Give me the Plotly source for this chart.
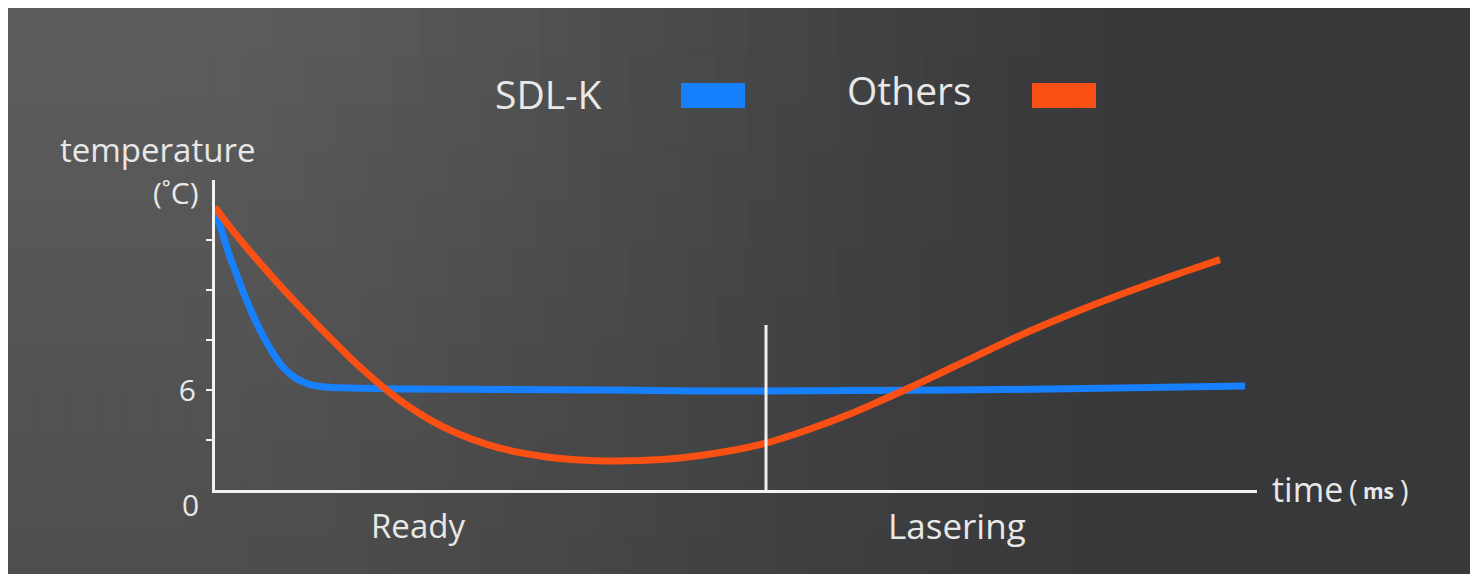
import plotly.graph_objects as go

# ---------------- data ----------------
sdl_t = [0, 0.7, 1.4, 2.1, 2.9, 3.7, 4.6, 5.6, 6.7, 7.9, 9.3, 11, 13.5, 18.5, 28.5, 38.5, 48.5,
         55.1, 63.5, 73.5, 83.5, 93.5, 103]
sdl_T = [16.8, 15.48, 14.16, 13.02, 11.76, 10.62, 9.48, 8.4, 7.44, 6.78, 6.36, 6.18, 6.12, 6.06,
         6.03, 6.0, 5.94, 5.94, 5.97, 6.0, 6.06, 6.15, 6.24]

oth_t = [0, 1.5, 3.1, 4.7, 6.3, 7.9, 9.6, 11.3, 13.1, 15.0, 17.0, 19.1, 21.5, 24.2, 27.2, 30.5,
         34.2, 38.2, 42.5, 46.5, 50.5, 55.1, 59.5, 63.5, 66.5, 69.5, 73.5, 77.5, 81.5, 85.5, 89.5,
         93.5, 97.0, 100.5]
oth_T = [16.98, 15.77, 14.6, 13.48, 12.4, 11.36, 10.3, 9.25, 8.18, 7.11, 6.08, 5.12, 4.21, 3.4,
         2.74, 2.24, 1.91, 1.76, 1.77, 1.92, 2.25, 2.82, 3.66, 4.56, 5.34, 6.15, 7.29, 8.43,
         9.54, 10.55, 11.49, 12.37, 13.11, 13.82]

series_names = ["SDL-K", "Others"]
series_colors = ["#1680ff", "#fa5014"]

y_tick_vals = [3, 6, 9, 12, 15]
y_tick_text = ["", "6", "", "", ""]
phase_labels = ["Ready", "Lasering"]
phase_divider_t = 55.1
phase_divider_top = 9.9

W, H = 1478, 574
OFF = 8  # page margin offset
FONT = "Open Sans, Liberation Sans, Arial, sans-serif"
TXT = "#e8e8e8"


def px(x):
    return (x - OFF) / W


def py(y):
    return 1 - (y - OFF) / H


fig = go.Figure()

fig.add_trace(go.Scatter(x=sdl_t, y=sdl_T, mode="lines", name=series_names[0],
                         line=dict(color=series_colors[0], width=7, shape="spline", smoothing=1.0),
                         cliponaxis=False, showlegend=False))
fig.add_trace(go.Scatter(x=oth_t, y=oth_T, mode="lines", name=series_names[1],
                         line=dict(color=series_colors[1], width=7, shape="spline", smoothing=1.0),
                         cliponaxis=False, showlegend=False))

# ---------------- background gradient ----------------
shapes = []
ncol, nrow = 50, 12
cw = W / ncol
rh = H / nrow
D = (0x37, 0x38, 0x3a)
for i in range(ncol):
    for j in range(nrow):
        cx = (i + 0.5) * cw + OFF
        cy = (j + 0.5) * rh + OFF
        L = 0x5e - 16 * (cy / H)
        f = min(max((cx - 100) / 1150, 0), 1)
        f = f * f * (3 - 2 * f)
        col = tuple(int(round(L + (d - L) * f)) for d in D)
        shapes.append(dict(type="rect", xref="paper", yref="paper", layer="below",
                           x0=i * cw / W, x1=((i + 1) * cw + 2) / W,
                           y0=1 - ((j + 1) * rh + 2) / H, y1=1 - (j * rh) / H,
                           fillcolor="rgb(%d,%d,%d)" % col, line=dict(width=0)))

# phase divider
shapes.append(dict(type="line", xref="x", yref="y", x0=phase_divider_t, x1=phase_divider_t,
                   y0=0, y1=phase_divider_top, line=dict(color="#f0f0f0", width=3)))

# legend swatches
shapes.append(dict(type="rect", xref="paper", yref="paper", x0=px(681), x1=px(745), y0=py(108), y1=py(83),
                   fillcolor=series_colors[0], line=dict(width=0)))
shapes.append(dict(type="rect", xref="paper", yref="paper", x0=px(1032), x1=px(1096), y0=py(108), y1=py(83),
                   fillcolor=series_colors[1], line=dict(width=0)))

ann = [
    dict(text="temperature", x=px(157), y=py(150), size=33),
    dict(text="(˚C)", x=px(176), y=py(192), size=30),
    dict(text=series_names[0], x=px(548), y=py(93), size=39),
    dict(text=series_names[1], x=px(909), y=py(90), size=39),
    dict(text=phase_labels[0], x=px(418), y=py(525), size=33),
    dict(text=phase_labels[1], x=px(957), y=py(525), size=35),
    dict(text="0", x=px(190), y=py(504), size=30),
    dict(text="(", x=px(1353), y=py(489), size=29),
    dict(text=")", x=px(1404), y=py(489), size=29),
]
annotations = [dict(text=a["text"], x=a["x"], y=a["y"], xref="paper", yref="paper", showarrow=False,
                    xanchor="center", yanchor="middle", font=dict(family=FONT, size=a["size"], color=TXT))
               for a in ann]
annotations.append(dict(text="time", x=px(1270), y=py(489), xref="paper", yref="paper", showarrow=False,
                        xanchor="left", yanchor="middle", font=dict(family=FONT, size=34, color=TXT)))
annotations.append(dict(text="ms", x=px(1378), y=py(491), xref="paper", yref="paper", showarrow=False,
                        xanchor="center", yanchor="middle",
                        font=dict(family=FONT, size=21, color=TXT, weight="bold")))

fig.update_layout(
    width=W, height=H,
    margin=dict(l=0, r=0, t=0, b=0),
    paper_bgcolor="#454545",
    plot_bgcolor="rgba(0,0,0,0)",
    shapes=shapes,
    annotations=annotations,
    xaxis=dict(domain=[(215 - OFF) / W, (1257 - OFF) / W], range=[0, 104.2], showgrid=False, zeroline=False,
               showline=True, linecolor="#f2f2f2", linewidth=3, showticklabels=False, ticks=""),
    yaxis=dict(domain=[1 - (490 - OFF) / H, 1 - (180 - OFF) / H], range=[0, 18.6], showgrid=False,
               zeroline=False, showline=True, linecolor="#f2f2f2", linewidth=3, ticks="outside",
               ticklen=6, tickwidth=2, tickcolor="#f2f2f2", tickvals=y_tick_vals, ticktext=y_tick_text,
               ticklabelstandoff=4, tickfont=dict(family=FONT, size=30, color=TXT)),
)

fig.write_html("out.html")
